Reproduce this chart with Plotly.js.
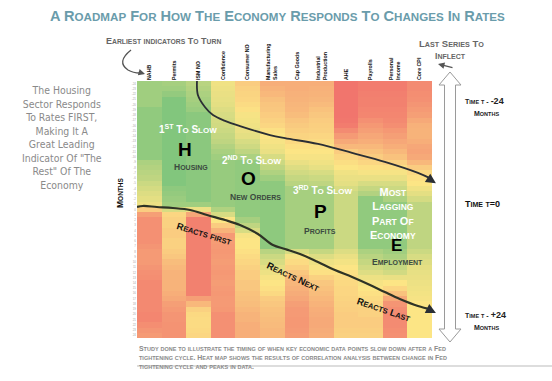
<!DOCTYPE html>
<html><head><meta charset="utf-8">
<script src="https://cdn.plot.ly/plotly-3.0.1.min.js"></script>
<style>html,body{margin:0;padding:0;background:#fff}#chart{width:552px;height:381px}</style>
</head><body><div id="chart"></div>
<script>
// ---------- DATA ----------
const categories = ["NAHB", "Permits", "ISM NO", "Confidence", "Consumer NO", "Manufacturing<br>Sales",
  "Cap Goods", "Industrial<br>Production", "AHE", "Payrolls", "Personal<br>Income", "Core CPI"];
const colIndex = [0,1,2,3,4,5,6,7,8,9,10,11];
const months = [-24,-23,-22,-21,-20,-19,-18,-17,-16,-15,-14,-13,-12,-11,-10,-9,-8,-7,-6,-5,-4,-3,-2,-1,0,
  1,2,3,4,5,6,7,8,9,10,11,12,13,14,15,16,17,18,19,20,21,22,23,24];

// correlation score per series per month (0 = red, 0.5 = yellow, 1 = green)
const nahb = [0.80,0.80,0.80,0.80,0.80, 0.85,0.85,0.85,0.85,0.85,0.85,0.85,0.85,0.85,0.85,
  0.76,0.74,0.72,0.70, 0.66,0.63,0.60,0.58,0.55, 0.40, 0.22, 0.16,0.16,0.16,0.16,0.16,
  0.18,0.20,0.20,0.20,0.18,0.16,0.15, 0.13,0.13,0.13,0.13,0.13,0.13, 0.12,0.12,0.15,0.18,0.20];
const permits = [0.78,0.80,0.84, 0.90,0.90,0.90,0.90,0.90,0.90,0.90,0.90,0.90,0.90,0.90,0.90,0.90,0.90,0.90,0.90,0.90,
  0.86,0.84,0.82,0.80, 0.62, 0.44,0.42,0.42,0.40,0.40,0.42,0.42,0.40,0.38,
  0.34,0.32,0.30,0.30,0.30,0.30,0.28,0.26, 0.22,0.20,0.18,0.18,0.17,0.17,0.17];
const ismNO = [0.72,0.74,0.76,0.78,0.80,0.82, 0.87,0.87,0.87,0.87,0.87,0.87,0.87,0.87,0.87,0.87,0.87,0.87,0.87,0.87,0.87,0.87,0.87,
  0.80, 0.55, 0.25, 0.10,0.10,0.10,0.10,0.10,0.10,0.10,0.10,0.10,0.10,0.10,0.10,0.10,0.10,0.10,
  0.22,0.32, 0.42,0.45,0.46,0.46,0.45,0.44];
const confidence = [0.54,0.55,0.56,0.57,0.58,0.60, 0.62,0.63,0.64,0.66,0.68,0.70, 0.74,0.77,0.80,
  0.83,0.83,0.83,0.83,0.83,0.83,0.83,0.83,0.83, 0.75,0.62,0.50,0.40,0.30,
  0.20,0.21,0.20,0.19,0.20,0.21,0.20,0.19,0.20,0.21,0.20,0.19,0.20,0.20,0.19, 0.16,0.16,0.16,0.16,0.16];
const consumerNO = [0.40,0.42,0.43,0.44,0.46,0.48, 0.52,0.53,0.54,0.56,0.58, 0.62,0.65,0.70,0.76,
  0.85,0.85,0.85,0.85,0.85,0.85,0.85,0.85,0.85,0.85,0.85, 0.78,0.70,0.62,
  0.52,0.50,0.50,0.48,0.46,0.44, 0.42,0.40,0.40,0.38,0.38,0.36,0.35,0.34, 0.32,0.30,0.30,0.28,0.28,0.28];
const mfgSales = [0.28,0.30,0.32, 0.35,0.37,0.38,0.40,0.42,0.44, 0.48,0.50,0.52,0.54,0.56, 0.62,0.66,0.70,0.75,0.80,
  0.86,0.86,0.86,0.86,0.86,0.86,0.86,0.86,0.86,0.86,0.86,0.86,0.86,
  0.72,0.66,0.62,0.58,0.55, 0.52,0.50,0.48,0.45, 0.40,0.38,0.36,0.35,0.34,0.33,0.32,0.32];
const capGoods = [0.28,0.28,0.29,0.30,0.31,0.32,0.34, 0.37,0.39,0.41,0.43,0.45, 0.48,0.50,0.52,0.56, 0.60,0.64,0.68,0.72,
  0.78,0.78,0.78,0.78,0.78,0.78,0.78,0.78,0.78,0.78,0.78,0.78,
  0.62,0.52,0.46,0.42,0.38, 0.34,0.31,0.29,0.27,0.25, 0.22,0.20,0.20,0.19,0.19,0.20,0.21];
const indProd = [0.28,0.29,0.30,0.31,0.33, 0.36,0.38,0.40,0.41,0.42,0.44,0.46, 0.48,0.50,0.52,0.54,0.57, 0.62,0.66,0.70,
  0.78,0.78,0.78,0.78,0.78,0.78,0.78,0.78,0.78,0.78,0.78,0.78,
  0.68,0.60,0.55,0.52,0.48, 0.42,0.38,0.36,0.34,0.32, 0.30,0.28,0.27,0.26,0.26,0.27,0.28];
const ahe = [0.05,0.05,0.05,0.05,0.05,0.05,0.05,0.06,0.08, 0.14,0.20,0.26,0.32, 0.40,0.44,0.47,0.50, 0.54,0.56,0.58,0.62,
  0.66,0.66,0.66,0.66,0.66,0.66,0.66,0.66,0.66,0.66,0.66,
  0.60,0.56,0.53,0.50,0.48, 0.46,0.45,0.44,0.44,0.43, 0.42,0.41,0.40,0.40,0.40,0.41,0.42];
const payrolls = [0.08,0.08,0.09,0.10,0.10,0.11,0.12, 0.16,0.19,0.22,0.25,0.28, 0.32,0.36,0.40,0.44, 0.48,0.52,0.56,
  0.62,0.68,0.74, 0.85,0.85,0.85,0.85,0.85,0.85,0.85,0.85,0.85,0.85,
  0.76,0.72,0.68,0.64,0.60, 0.55,0.52,0.50,0.48,0.46, 0.44,0.42,0.42,0.40,0.40,0.41,0.42];
const persIncome = [0.08,0.08,0.09,0.10,0.10,0.11,0.12,0.13,0.15, 0.19,0.22,0.25,0.28,0.32,0.36, 0.42,0.47,0.52,0.56,
  0.62,0.66,0.70,0.76, 0.85,0.85,0.85,0.85,0.85,0.85,0.85,0.85,0.85,
  0.80,0.76,0.72,0.68,0.64, 0.56,0.50,0.44,0.36, 0.26, 0.18,0.15,0.14,0.14,0.14,0.15,0.16];
const coreCPI = [0.14,0.14,0.15,0.16,0.18,0.20,0.22, 0.26,0.29,0.30,0.30,0.28, 0.25,0.24,0.26,0.32, 0.40,0.45,0.48,0.50,
  0.54,0.58,0.63, 0.70,0.70,0.70,0.70,0.70,0.70,0.70,0.70,0.70,
  0.66,0.62,0.60,0.58,0.57, 0.56,0.55,0.54,0.53,0.52, 0.50,0.50,0.50,0.50,0.50,0.50,0.50];

// turning-point curves (series index, month)
const curve1X = [1.94,1.98,2.27,2.59,3.08,3.69,4.91,5.52,6.86,8.25,9.58,10.93,11.5];
const curve1Y = [-24.5,-21.8,-19.5,-18.0,-16.9,-15.9,-14.2,-13.6,-12.5,-10.8,-9.1,-7.0,-5.8];
const curve2X = [-0.5,-0.26,0.31,0.96,1.66,2.35,3.08,3.69,4.42,5.03,5.52,6.13,6.86,7.55,8.25,8.98,9.58,10.19,10.93,11.5];
const curve2Y = [-0.48,-0.67,-0.48,-0.29,0.09,1.05,2.0,2.95,4.67,6.77,7.53,8.48,10.01,11.53,12.87,14.39,15.73,17.06,18.4,19.1];

// ---------- BUILD ----------
const series = [nahb, permits, ismNO, confidence, consumerNO, mfgSales, capGoods, indProd, ahe, payrolls, persIncome, coreCPI];
const z = months.map((m, r) => series.map(s => s[r]));

const W = 552, H = 381, L = 137, R = 432, T = 81, B = 338;
const px = x => (x - L) / (R - L);
const py = y => (B - y) / (B - T);

function sc(s, small) {
  let out = '', run = '';
  for (const ch of s) {
    if (/[a-z]/.test(ch)) { run += ch.toUpperCase(); }
    else { if (run) { out += `<span style="font-size:${small}px">${run}</span>`; run = ''; } out += ch; }
  }
  if (run) out += `<span style="font-size:${small}px">${run}</span>`;
  return out;
}

const ann = [];
function txt(text, x, y, size, color, o = {}) {
  ann.push(Object.assign({
    text: text, x: px(x), y: py(y), xref: 'paper', yref: 'paper', showarrow: false,
    xanchor: 'center', yanchor: 'middle',
    font: {family: 'Liberation Sans, Arial, sans-serif', size: size, color: color, weight: 'bold'}
  }, o));
}
const CF = 'Liberation Sans, Arial, sans-serif';

// Title
txt(sc('A Roadmap For How The Economy Responds To Changes In Rates', 11.6), 277, 16, 14.6, '#6a9cab');
txt(sc('Earliest indicators To Turn', 6.8), 163, 41, 9, '#666');
txt(sc('Last Series To', 7.2), 451, 43, 9.5, '#666');
txt(sc('Inflect', 7), 450, 56, 8.5, '#666');
// left note
txt('The Housing<br>Sector Responds<br>To Rates FIRST,<br>Making It A<br>Great Leading<br>Indicator Of "The<br>Rest" Of The<br>Economy',
  62, 137, 10.4, '#8a8a8a', {font: {family: 'DejaVu Sans Condensed, DejaVu Sans, sans-serif', size: 10.4, color: '#8a8a8a', weight: 'normal'}});
txt(sc('Months', 6.5), 120, 193, 8.5, '#111', {textangle: -90});
// right side
txt(sc('Time t - ', 5.5) + '<span style="font-size:9px">-24</span>', 463, 101, 7, '#222', {xanchor: 'left'});
txt(sc('Months', 5.5), 486, 113, 7, '#222');
txt(sc('Time t=0', 7), 463, 204, 9, '#111', {xanchor: 'left'});
txt(sc('Time t - ', 5.5) + '<span style="font-size:9px">+24</span>', 463, 315, 7, '#222', {xanchor: 'left'});
txt(sc('Months', 5.5), 486, 327, 7, '#222');
// inside heatmap
const dk = '#3c4a40';
txt('1<sup>ST</sup> ' + sc('To Slow', 8), 188, 129, 10, '#fff');
txt('H', 185, 149, 19, '#000');
txt(sc('Housing', 7), 191, 167, 8.5, dk);
txt('2<sup>ND</sup> ' + sc('To Slow', 8), 251, 160, 10, '#fff');
txt('O', 248, 178, 19, '#000');
txt(sc('New Orders', 7), 255, 197, 8.5, dk);
txt('3<sup>RD</sup> ' + sc('To Slow', 8), 322, 190, 10, '#fff');
txt('P', 320, 211, 19, '#000');
txt(sc('Profits', 7), 320, 231, 8.5, dk);
txt('E', 396, 245, 17, '#000');
txt(sc('Most', 8.5) + '<br>' + sc('Lagging', 8.5) + '<br>' + sc('Part Of', 8.5) + '<br>' + sc('Economy', 8.5), 393, 214, 11, '#fff');
txt(sc('Employment', 7), 397, 262, 8.5, dk);
txt(sc('Reacts first', 7.5), 204, 233, 9.5, '#111', {textangle: 17});
txt(sc('Reacts Next', 7.5), 293, 276, 9.5, '#111', {textangle: 25});
txt(sc('Reacts Last', 7.5), 384, 309, 9.5, '#111', {textangle: 19});
// footnote
const fn = ['Study done to illustrate the timing of when key economic data points slow down after a Fed',
  'tightening cycle. Heat map shows the results of correlation analysis between change in Fed',
  'tightening cycle and peaks in data.'];
fn.forEach((l, i) => txt(sc(l, 5.5), 137, 348 + i * 9, 6.9, '#8a8a8a', {xanchor: 'left'}));

// arrows (annotation heads)
function arrowAnn(x, y, ax, ay, color, w) {
  ann.push({x: px(x), y: py(y), xref: 'paper', yref: 'paper', ax: ax, ay: ay, text: '',
    showarrow: true, arrowhead: 2, arrowsize: 1, arrowwidth: w, arrowcolor: color});
}
arrowAnn(145, 74, -7, -2, '#555', 1.3);
arrowAnn(438, 64, 16, 4, '#555', 1.3);
// curve end arrowheads
ann.push({x: 11.66, y: -5.0, xref: 'x', yref: 'y', ax: 11.3, ay: -6.1, axref: 'x', ayref: 'y', text: '',
  showarrow: true, arrowhead: 2, arrowsize: 1, arrowwidth: 2, arrowcolor: '#2b2f35'});
ann.push({x: 11.66, y: 19.75, xref: 'x', yref: 'y', ax: 11.3, ay: 18.9, axref: 'x', ayref: 'y', text: '',
  showarrow: true, arrowhead: 2, arrowsize: 1, arrowwidth: 2, arrowcolor: '#2b2f35'});

// shapes
function P(x, y) { return px(x).toFixed(4) + ',' + py(y).toFixed(4); }
const ax0 = 450, sw = 5.5, hw = 11;
const dbl = `M${P(ax0,72)} L${P(ax0+hw,85)} L${P(ax0+sw,85)} L${P(ax0+sw,329)} L${P(ax0+hw,329)} L${P(ax0,342)} ` +
  `L${P(ax0-hw,329)} L${P(ax0-sw,329)} L${P(ax0-sw,85)} L${P(ax0-hw,85)} Z`;
const shapes = [
  {type: 'path', xref: 'paper', yref: 'paper', path: dbl, line: {color: '#9a9a9a', width: 1}, fillcolor: '#fff'},
  {type: 'path', xref: 'paper', yref: 'paper', path: `M${P(131,50)} Q${P(116,62)} ${P(128,70)} Q${P(133,73)} ${P(140,73)}`,
    line: {color: '#555', width: 1.3}},
  {type: 'line', xref: 'paper', yref: 'paper', x0: px(137), x1: px(552), y0: py(366), y1: py(366),
    line: {color: '#aaa', width: 0.8}}
];

const traces = [
  {type: 'heatmap', x: colIndex, y: months, z: z, zmin: 0, zmax: 1, showscale: false, hoverinfo: 'skip',
    colorscale: [[0, '#F0686A'], [0.5, '#FCE585'], [1, '#63BE7B']]},
  {type: 'scatter', mode: 'lines', x: curve1X, y: curve1Y, line: {color: '#2b2f35', width: 1.8, shape: 'spline'}, hoverinfo: 'skip'},
  {type: 'scatter', mode: 'lines', x: curve2X, y: curve2Y, line: {color: '#2e3326', width: 2.2, shape: 'spline'}, hoverinfo: 'skip'}
];

const layout = {
  width: W, height: H, showlegend: false,
  margin: {l: L, r: W - R, t: T, b: H - B, pad: 0},
  paper_bgcolor: '#fff', plot_bgcolor: '#fff',
  xaxis: {side: 'top', range: [-0.5, 11.5], tickvals: colIndex, ticktext: categories, tickangle: -90,
    tickfont: {family: CF, size: 5.3, color: '#111', weight: 'bold'}, showgrid: false, zeroline: false, ticks: '', showline: false, fixedrange: true},
  yaxis: {range: [24.5, -24.5], tickvals: months, ticktext: months.map(String), tickfont: {family: CF, size: 3, color: '#aaa'},
    showgrid: false, zeroline: false, ticks: '', showline: false, fixedrange: true},
  annotations: ann, shapes: shapes
};
Plotly.newPlot('chart', traces, layout, {staticPlot: true, displayModeBar: false});
</script></body></html>
